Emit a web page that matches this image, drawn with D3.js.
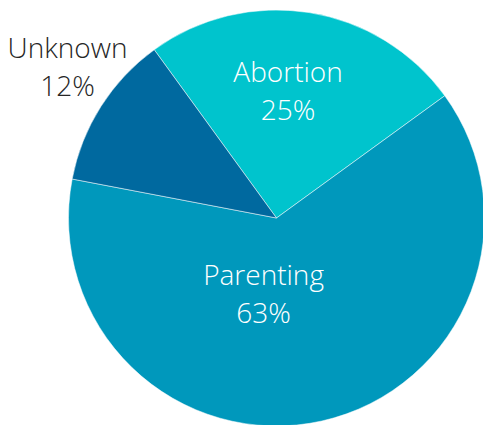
<!DOCTYPE html>
<html lang="en">
<head>
    <meta charset="UTF-8">
    <title>Outcomes</title>
    <script src="https://d3js.org/d3.v7.min.js"></script>
    <style>
        body { margin: 0; background: #fff; }
        text { font-family: "Open Sans", sans-serif; font-weight: 300; }
    </style>
</head>
<body>
    <div id="chart"></div>
    <script>
        // Chart data
        const categories = ["Abortion", "Parenting", "Unknown"];
        const values = [25, 63, 12];
        const colors = ["#00c4cd", "#0098bc", "#00699f"];

        const width = 483, height = 425;
        const cx = 276.5, cy = 218, radius = 208;

        // label placement tweaks (radius factor, angle nudge in degrees)
        const labelStyle = {
            Abortion: { r: 0.613, nudge: -3.8, fill: "#fff" },
            Parenting: { r: 0.37, nudge: 22.3, fill: "#fff" },
            Unknown: { r: 1.24, nudge: 3.5, fill: "#262626" }
        };

        const svg = d3.select("#chart")
            .append("svg")
            .attr("width", width)
            .attr("height", height);

        const g = svg.append("g")
            .attr("transform", `translate(${cx},${cy})`);

        const pie = d3.pie()
            .value(d => d.value)
            .sort(null)
            .startAngle(-36 * Math.PI / 180)
            .endAngle(324 * Math.PI / 180);

        const data = categories.map((c, i) => ({ name: c, value: values[i], color: colors[i] }));
        const arcs = pie(data);

        const arc = d3.arc().innerRadius(0).outerRadius(radius);

        g.selectAll("path")
            .data(arcs)
            .enter()
            .append("path")
            .attr("d", arc)
            .attr("fill", d => d.data.color)
            .attr("stroke", "#fff")
            .attr("stroke-width", 0.5);

        // Labels
        const label = g.selectAll("g.label")
            .data(arcs)
            .enter()
            .append("g")
            .attr("class", "label")
            .attr("transform", d => {
                const s = labelStyle[d.data.name];
                const a = (d.startAngle + d.endAngle) / 2 + s.nudge * Math.PI / 180;
                const r = radius * s.r;
                return `translate(${r * Math.sin(a)},${-r * Math.cos(a)})`;
            });

        label.append("text")
            .attr("text-anchor", "middle")
            .attr("y", -9)
            .attr("font-size", 28)
            .attr("fill", d => labelStyle[d.data.name].fill)
            .text(d => d.data.name);

        label.append("text")
            .attr("text-anchor", "middle")
            .attr("y", 29)
            .attr("font-size", 28)
            .attr("fill", d => labelStyle[d.data.name].fill)
            .text(d => d.data.value + "%");
    </script>
</body>
</html>
